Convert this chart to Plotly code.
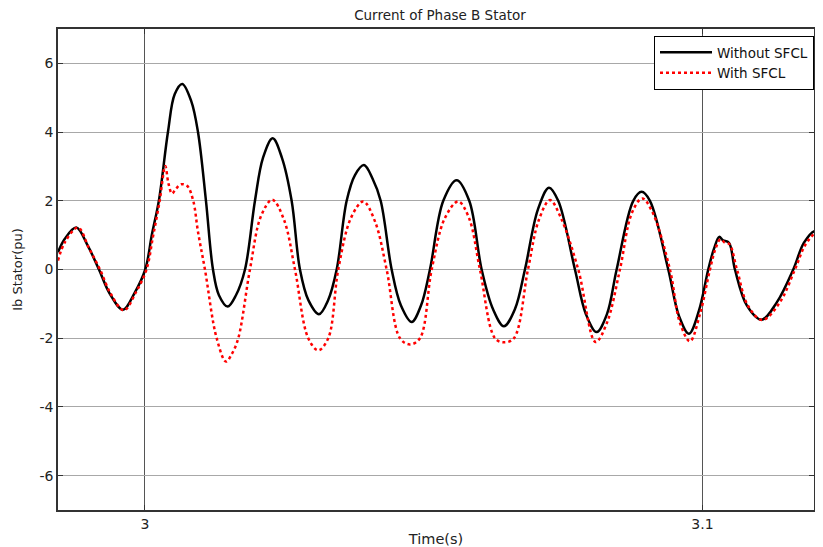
import plotly.graph_objects as go

# ---- data ----
t_without = [2.98440, 2.98560, 2.98768, 2.98978, 2.99175, 2.99367, 2.99605, 2.99815,
             3.00005, 3.00126, 3.00251, 3.00413, 3.00533, 3.00669, 3.00830, 3.00951,
             3.01094, 3.01220, 3.01327, 3.01483, 3.01632, 3.01794, 3.01973, 3.02117,
             3.02291, 3.02457, 3.02631, 3.02780, 3.02933, 3.03121, 3.03283, 3.03439,
             3.03618, 3.03767, 3.03928, 3.04081, 3.04228, 3.04425, 3.04592, 3.04784,
             3.04951, 3.05112, 3.05351, 3.05591, 3.05817, 3.06039, 3.06242, 3.06439,
             3.06637, 3.06816, 3.07049, 3.07247, 3.07413, 3.07713, 3.07910, 3.08102,
             3.08287, 3.08461, 3.08759, 3.08909, 3.09058, 3.09387, 3.09579, 3.09758,
             3.09937, 3.10104, 3.10206, 3.10301, 3.10368, 3.10475, 3.10583, 3.10798,
             3.11062, 3.11336, 3.11629, 3.11821, 3.12018, 3.12144]
i_without = [0.50, 0.89, 1.22, 0.68, 0.00, -0.70, -1.17, -0.68,
             0.00, 1.03, 2.02, 4.01, 5.10, 5.40, 4.90, 4.00,
             2.00, 0.00, -0.75, -1.08, -0.75, 0.00, 2.00, 3.25,
             3.82, 3.25, 2.00, 0.00, -0.90, -1.30, -0.90, 0.00,
             2.00, 2.75, 3.04, 2.65, 2.00, 0.00, -1.05, -1.53,
             -1.05, 0.00, 2.00, 2.60, 2.00, 0.00, -1.15, -1.65,
             -1.15, 0.00, 1.75, 2.38, 2.00, 0.00, -1.30, -1.82,
             -1.30, 0.00, 2.00, 2.26, 2.00, 0.00, -1.35, -1.87,
             -1.20, 0.00, 0.60, 0.95, 0.85, 0.78, 0.00, -1.05,
             -1.46, -0.95, 0.00, 0.78, 1.12, 1.02]

t_with = [2.98440, 2.98565, 2.98798, 2.98996, 2.99193, 2.99390, 2.99623, 2.99839,
          3.00027, 3.00143, 3.00264, 3.00364, 3.00422, 3.00484, 3.00556, 3.00651,
          3.00759, 3.00866, 3.00951, 3.01076, 3.01286, 3.01453, 3.01561, 3.01674,
          3.01883, 3.02081, 3.02283, 3.02493, 3.02691, 3.02929, 3.03109, 3.03288,
          3.03467, 3.03695, 3.03916, 3.04126, 3.04335, 3.04574, 3.04753, 3.04933,
          3.05143, 3.05381, 3.05620, 3.05812, 3.06009, 3.06278, 3.06439, 3.06619,
          3.06870, 3.07067, 3.07265, 3.07462, 3.07772, 3.08084, 3.08287, 3.08520,
          3.08735, 3.08920, 3.09094, 3.09417, 3.09596, 3.09776, 3.09955, 3.10135,
          3.10233, 3.10323, 3.10404, 3.10484, 3.10619, 3.10816, 3.11076, 3.11390,
          3.11659, 3.11857, 3.12054, 3.12144]
i_with = [0.26, 0.80, 1.22, 0.62, 0.00, -0.72, -1.19, -0.66,
          0.00, 0.95, 2.00, 3.01, 2.50, 2.21, 2.35, 2.48,
          2.43, 2.00, 1.10, 0.00, -2.00, -2.68, -2.45, -2.00,
          0.00, 1.55, 2.03, 1.45, 0.00, -2.00, -2.35, -2.00,
          0.00, 1.50, 1.98, 1.40, 0.00, -2.00, -2.18, -2.00,
          0.00, 1.50, 1.98, 1.50, 0.00, -2.00, -2.12, -2.00,
          0.00, 1.45, 2.02, 1.50, 0.00, -2.11, -1.55, 0.00,
          1.65, 2.07, 1.70, 0.00, -1.55, -2.09, -1.30, 0.00,
          0.60, 0.88, 0.78, 0.74, 0.00, -1.05, -1.47, -0.95,
          0.00, 0.75, 1.08, 1.02]

x_ticks = [3.0, 3.1]
x_tick_labels = ["3", "3.1"]
y_ticks = [-6, -4, -2, 0, 2, 4, 6]
y_tick_labels = ["-6", "-4", "-2", "0", "2", "4", "6"]

FONT = "DejaVu Sans, Verdana, sans-serif"
W, H = 807, 539   # page body adds an 8px margin

fig = go.Figure()
fig.add_trace(go.Scatter(
    x=t_without, y=i_without, mode="lines", name="Without SFCL",
    line=dict(color="black", width=2.5, shape="spline", smoothing=1.0)))
fig.add_trace(go.Scatter(
    x=t_with, y=i_with, mode="lines", name="With SFCL",
    line=dict(color="red", width=2.5, dash="dot", shape="spline", smoothing=1.0)))

fig.update_layout(
    width=W, height=H,
    margin=dict(l=50, r=1, t=21, b=37, autoexpand=False),
    paper_bgcolor="white", plot_bgcolor="white",
    font=dict(family=FONT, size=14, color="#222222"),
    title=dict(text="Current of Phase B Stator", x=(50 + 0.5 * 764) / W, xanchor="center",
               y=1 - 3 / H, yanchor="top", pad=dict(t=0, b=0),
               font=dict(size=13.5, color="#222222")),
    showlegend=True,
    legend=dict(x=1, xanchor="right", y=1 - 7 / 481, yanchor="top",
                bgcolor="white", bordercolor="black", borderwidth=1,
                font=dict(size=13.5, color="#111111"), tracegroupgap=0,
                itemwidth=52),
)
fig.update_xaxes(
    range=[2.98440, 3.12001], tickvals=x_ticks, ticktext=x_tick_labels,
    showgrid=True, gridcolor="#555555", gridwidth=1,
    showline=True, linecolor="#333333", linewidth=1.5, mirror="ticks",
    ticks="inside", ticklen=5, tickcolor="#333333",
    zeroline=False, automargin=False,
    title=dict(text="Time(s)", font=dict(size=14.5), standoff=6),
)
fig.update_yaxes(
    range=[-7, 7], tickvals=y_ticks, ticktext=y_tick_labels,
    showgrid=True, gridcolor="#a8a8a8", gridwidth=1.2,
    showline=True, linecolor="#333333", linewidth=1.5, mirror="ticks",
    ticks="inside", ticklen=5, tickcolor="#333333",
    zeroline=False, automargin=False,
    title=dict(text="Ib Stator(pu)", font=dict(size=13), standoff=14),
)

fig.write_html("out.html")
